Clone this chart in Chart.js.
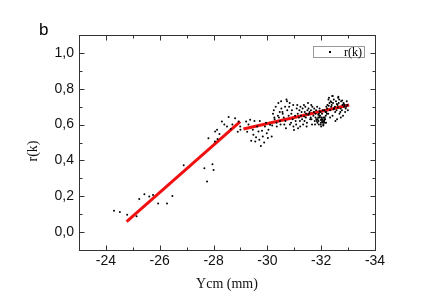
<!DOCTYPE html>
<html>
<head>
<meta charset="utf-8">
<script src="https://cdn.jsdelivr.net/npm/chart.js@4.4.1/dist/chart.umd.min.js"></script>
<style>
  html, body { margin: 0; padding: 0; background: #fff; }
  #chart { display: block; }
</style>
</head>
<body>
<canvas id="chart" width="436" height="300"></canvas>
<script>
// Ycm (mm) of each measured point
var ycm = [
  -24.30, -24.52, -24.79, -25.14, -25.24, -25.43, -25.61, -25.75, -25.94, -26.27, -26.47, -26.89,
  -27.66, -27.76, -27.96, -28.00, -27.81, -28.06, -28.13, -28.22, -28.31, -28.50, -28.56, -28.64,
  -28.80, -28.93, -28.99, -29.00, -28.90, -28.70, -28.40, -28.15, -28.05,
  -29.21, -29.36, -29.46, -29.48, -29.58, -29.67, -29.70, -29.76, -29.83, -29.91, -29.98, -30.04,
  -30.10, -30.16, -29.30, -29.40, -29.55, -29.62, -29.72, -29.80, -29.88, -29.95, -30.02, -29.52,
  -29.25, -30.18,
  -30.21, -30.27, -30.24, -30.34, -30.31, -30.39, -30.35, -30.46, -30.41, -30.43, -30.52, -30.47,
  -30.57, -30.51, -30.63, -30.56, -30.66, -30.61, -30.71, -30.67, -30.74, -30.79, -30.73, -30.84,
  -30.81, -30.89, -30.83, -30.94, -30.91, -30.97, -30.96, -30.26, -30.49, -30.69, -30.88,
  -31.03, -30.99, -31.09, -31.05, -31.11, -31.13, -31.07, -31.19, -31.17, -31.23, -31.21, -31.27,
  -31.22, -31.31, -31.25, -31.36, -31.29, -31.39, -31.33, -31.41, -31.44, -31.38, -31.49, -31.43,
  -31.51, -31.47, -31.57, -31.53, -31.59, -31.55, -31.63, -31.61, -31.66, -31.62, -31.71, -31.67,
  -31.76, -31.73, -31.79, -31.74, -31.14, -31.37, -31.52, -31.77, -31.46, -31.64,
  -31.82, -31.79, -31.86, -31.81, -31.89, -31.84, -31.93, -31.85, -31.91, -31.87, -31.97, -31.90,
  -31.95, -31.99, -31.92, -32.01, -31.94, -32.04, -31.98, -32.02, -32.07, -31.96, -32.05, -32.00,
  -32.11, -32.03, -32.09, -32.14, -32.06, -32.12, -32.08, -32.17, -32.10, -32.16, -32.13, -32.19,
  -32.15, -32.21, -32.18, -32.12, -31.99, -32.04, -31.89, -32.08, -31.94,
  -32.23, -32.19, -32.27, -32.22, -32.31, -32.26, -32.29, -32.37, -32.33, -32.35, -32.42, -32.39,
  -32.41, -32.48, -32.44, -32.52, -32.47, -32.51, -32.59, -32.55, -32.57, -32.63, -32.61, -32.68,
  -32.65, -32.72, -32.67, -32.71, -32.79, -32.74, -32.77, -32.85, -32.81, -32.83, -32.91, -32.87,
  -32.89, -32.95, -32.93, -32.99, -32.97, -32.28, -32.38, -32.46, -32.58, -32.62, -32.78, -32.84,
  -32.33, -32.53, -32.73, -32.43, -32.64
];
// r(k) of each measured point
var rk = [
  0.119, 0.112, 0.097, 0.088, 0.185, 0.211, 0.198, 0.207, 0.160, 0.160, 0.201, 0.373,
  0.356, 0.282, 0.379, 0.347, 0.524, 0.561, 0.571, 0.548, 0.617, 0.589, 0.642, 0.575,
  0.636, 0.617, 0.589, 0.571, 0.560, 0.600, 0.600, 0.520, 0.505,
  0.617, 0.627, 0.571, 0.543, 0.530, 0.561, 0.515, 0.480, 0.533, 0.589, 0.552, 0.571,
  0.599, 0.533, 0.600, 0.510, 0.505, 0.590, 0.620, 0.565, 0.500, 0.610, 0.525, 0.620,
  0.560, 0.595,
  0.66, 0.63, 0.68, 0.61, 0.70, 0.65, 0.59, 0.67, 0.72, 0.64, 0.69, 0.62,
  0.66, 0.73, 0.60, 0.67, 0.70, 0.64, 0.74, 0.62, 0.68, 0.65, 0.73, 0.60,
  0.70, 0.66, 0.72, 0.63, 0.68, 0.59, 0.71, 0.64, 0.60, 0.58, 0.61,
  0.65, 0.57, 0.69, 0.62, 0.71, 0.66, 0.60, 0.68, 0.64, 0.70, 0.62, 0.67,
  0.59, 0.69, 0.65, 0.71, 0.63, 0.67, 0.60, 0.70, 0.66, 0.62, 0.68, 0.64,
  0.72, 0.61, 0.67, 0.69, 0.63, 0.66, 0.71, 0.64, 0.60, 0.68, 0.65, 0.70,
  0.62, 0.67, 0.64, 0.69, 0.58, 0.645, 0.655, 0.60, 0.59, 0.63,
  0.63, 0.66, 0.61, 0.68, 0.64, 0.62, 0.65, 0.70, 0.60, 0.63, 0.67, 0.62,
  0.64, 0.61, 0.66, 0.63, 0.69, 0.62, 0.60, 0.64, 0.61, 0.65, 0.63, 0.59,
  0.62, 0.66, 0.64, 0.61, 0.68, 0.63, 0.60, 0.65, 0.62, 0.67, 0.64, 0.70,
  0.63, 0.66, 0.61, 0.68, 0.625, 0.615, 0.655, 0.595, 0.675,
  0.71, 0.67, 0.74, 0.69, 0.72, 0.66, 0.75, 0.70, 0.68, 0.73, 0.65, 0.71,
  0.76, 0.69, 0.72, 0.67, 0.74, 0.70, 0.63, 0.73, 0.68, 0.75, 0.71, 0.66,
  0.72, 0.69, 0.74, 0.67, 0.71, 0.73, 0.68, 0.70, 0.65, 0.72, 0.69, 0.71,
  0.67, 0.73, 0.70, 0.68, 0.71, 0.705, 0.725, 0.685, 0.715, 0.695, 0.735, 0.715,
  0.64, 0.62, 0.64, 0.76, 0.755
];

// the two linear fits (end points)
var fit1X = [-24.77, -28.99];
var fit1Y = [0.058, 0.617];
var fit2X = [-29.11, -33.04];
var fit2Y = [0.575, 0.709];

// tick labels
var xTicks = [-24, -26, -28, -30, -32, -34];
var yTicks = [0.0, 0.2, 0.4, 0.6, 0.8, 1.0];

function pairs(xs, ys) {
    return xs.map(function (v, i) { return { x: v, y: ys[i] }; });
}

// Origin style frame: box round the plot, inward major + minor ticks on all sides
var frameTicks = {
    id: 'frameTicks',
    afterDraw: function (chart) {
        var ctx = chart.ctx;
        var a = chart.chartArea;
        var x = chart.scales.x, y = chart.scales.y;
        var L = Math.round(a.left) + 0.5, R = Math.round(a.right) + 0.5;
        var T = Math.round(a.top) + 0.5, B = Math.round(a.bottom) + 0.5;
        ctx.save();
        ctx.strokeStyle = '#333';
        ctx.lineWidth = 1;
        ctx.strokeRect(L, T, R - L, B - T);

        function tickX(v, len) {
            var px = Math.round(x.getPixelForValue(v)) + 0.5;
            ctx.beginPath();
            ctx.moveTo(px, B); ctx.lineTo(px, B - len);
            ctx.moveTo(px, T); ctx.lineTo(px, T + len);
            ctx.stroke();
        }
        function tickY(v, len) {
            var py = Math.round(y.getPixelForValue(v)) + 0.5;
            ctx.beginPath();
            ctx.moveTo(L, py); ctx.lineTo(L + len, py);
            ctx.moveTo(R, py); ctx.lineTo(R - len, py);
            ctx.stroke();
        }
        xTicks.forEach(function (v) {
            tickX(v, 5);
            tickX(v + 1, 3);
        });
        yTicks.forEach(function (v) {
            tickY(v, 5);
            tickY(v + 0.1, 3);
        });

        // legend box
        var lx = 313.5, ly = 46.5, lw = 51, lh = 11;
        ctx.fillStyle = '#fff';
        ctx.fillRect(lx, ly, lw, lh);
        ctx.strokeStyle = '#999';
        ctx.strokeRect(lx, ly, lw, lh);
        ctx.fillStyle = '#000';
        ctx.fillRect(329, 51, 2, 2);
        ctx.font = '12px "Liberation Serif", "Times New Roman", serif';
        ctx.textBaseline = 'middle';
        ctx.textAlign = 'left';
        ctx.fillText(chart.data.datasets[0].label, 344, 52.5);

        // y axis title, a little below the middle as in the original
        ctx.save();
        ctx.translate(33, 151);
        ctx.rotate(-Math.PI / 2);
        ctx.textAlign = 'center';
        ctx.font = '14px "Liberation Serif", "Times New Roman", serif';
        ctx.fillStyle = '#111';
        ctx.fillText('r(k)', 0, 0);
        ctx.restore();

        // panel letter
        ctx.font = '17px "Liberation Sans", Arial, sans-serif';
        ctx.textBaseline = 'alphabetic';
        ctx.fillText('b', 39, 35);
        ctx.restore();
    }
};

var ctx = document.getElementById('chart');

var data = {
    datasets: [
        {
            label: 'r(k)',
            data: pairs(ycm, rk),
            pointRadius: 1,
            pointBorderWidth: 0,
            pointBackgroundColor: '#000',
            showLine: false
        },
        {
            label: 'fit1',
            data: pairs(fit1X, fit1Y),
            showLine: true,
            borderColor: '#f01010',
            borderWidth: 3,
            pointRadius: 0
        },
        {
            label: 'fit2',
            data: pairs(fit2X, fit2Y),
            showLine: true,
            borderColor: '#f01010',
            borderWidth: 3,
            pointRadius: 0
        }
    ]
};

var options = {
    responsive: false,
    animation: false,
    layout: {
        padding: { top: 35, right: 61, left: 0, bottom: 0 }
    },
    plugins: {
        legend: { display: false },
        tooltip: { enabled: false }
    },
    scales: {
        x: {
            type: 'linear',
            min: -34,
            max: -23,
            reverse: true,
            grid: { display: false, drawTicks: false },
            border: { display: false },
            afterBuildTicks: function (s) {
                s.ticks = xTicks.map(function (v) { return { value: v }; });
            },
            afterFit: function (s) { s.height = 50; },
            ticks: {
                color: '#111',
                padding: 3,
                maxRotation: 0,
                font: { family: '"Liberation Sans", Arial, sans-serif', size: 14 },
                callback: function (v) { return String(v); }
            },
            title: {
                display: true,
                text: 'Ycm (mm)',
                color: '#111',
                padding: { top: 0, bottom: 7 },
                font: { family: '"Liberation Serif", "Times New Roman", serif', size: 14 }
            }
        },
        y: {
            type: 'linear',
            min: -0.1,
            max: 1.1,
            grid: { display: false, drawTicks: false },
            border: { display: false },
            afterBuildTicks: function (s) {
                s.ticks = yTicks.map(function (v) { return { value: v }; });
            },
            afterFit: function (s) { s.width = 79; },
            ticks: {
                color: '#111',
                padding: 5,
                font: { family: '"Liberation Sans", Arial, sans-serif', size: 14 },
                callback: function (v) { return v.toFixed(1).replace('.', ','); }
            }
        }
    }
};

new Chart(ctx, {
    type: 'scatter',
    data: data,
    options: options,
    plugins: [frameTicks]
});
</script>
</body>
</html>
